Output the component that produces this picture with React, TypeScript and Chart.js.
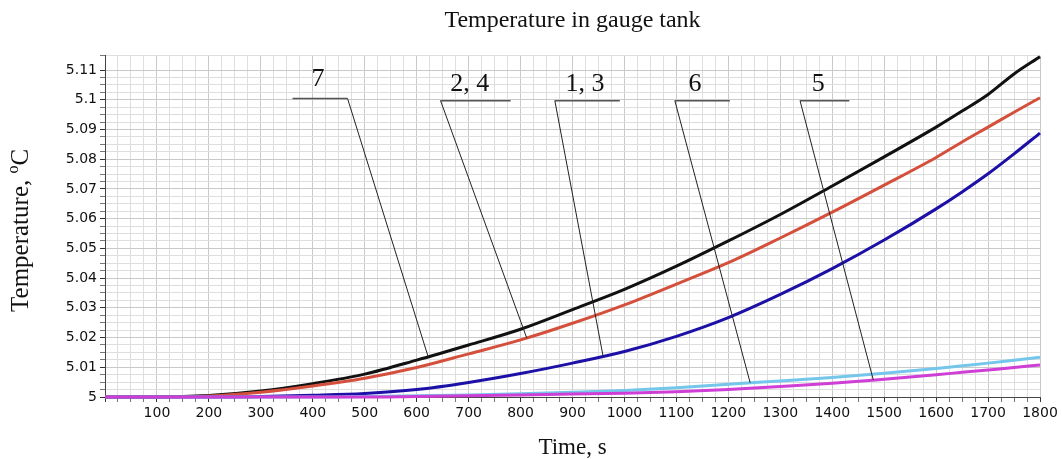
import React, { useEffect, useRef } from 'react';
import { Chart, registerables } from 'chart.js';

Chart.register(...registerables);

// ---- data ----
const times = [0, 100, 200, 300, 400, 500, 600, 700, 800, 900, 1000, 1100, 1200, 1300, 1400, 1500, 1600, 1650, 1700, 1750, 1800];

const curve7 = [5, 5, 5.0005, 5.002, 5.0045, 5.0077, 5.0124, 5.0175, 5.0228, 5.0294, 5.0362, 5.044, 5.0525, 5.0614, 5.071, 5.0808, 5.0908, 5.0962, 5.1018, 5.1087, 5.1145];
const curve24 = [5, 5, 5.0003, 5.0016, 5.0037, 5.0063, 5.0099, 5.0145, 5.0192, 5.0248, 5.031, 5.038, 5.0452, 5.0535, 5.0622, 5.0713, 5.0806, 5.0858, 5.0908, 5.0958, 5.1007];
const curve13 = [5, 5, 5, 5.0002, 5.0006, 5.0012, 5.0025, 5.0049, 5.0079, 5.0114, 5.0153, 5.0204, 5.0267, 5.0345, 5.0432, 5.0528, 5.0633, 5.069, 5.0751, 5.0818, 5.0888];
const curve6 = [5, 5, 5, 5, 5, 5.0002, 5.0004, 5.0007, 5.0011, 5.0016, 5.0022, 5.0031, 5.0043, 5.0054, 5.0066, 5.008, 5.0096, 5.0105, 5.0114, 5.0124, 5.0134];
const curve5 = [5, 5, 5, 5, 5, 5, 5.0002, 5.0004, 5.0007, 5.001, 5.0013, 5.0018, 5.0025, 5.0035, 5.0046, 5.006, 5.0075, 5.0083, 5.0091, 5.0099, 5.0108];

const seriesNames = ['5', '6', '1, 3', '2, 4', '7'];
const seriesValues = [curve5, curve6, curve13, curve24, curve7];
const seriesColors = ['#cf3fd6', '#74c6ea', '#1d10a6', '#d4503c', '#111111'];

// callouts (data coordinates)
const calloutText = ['7', '2, 4', '1, 3', '6', '5'];
const calloutTextX = [410, 702, 924, 1136, 1373];
const calloutTextY = [5.1071, 5.1054, 5.1054, 5.1054, 5.1054];
const shelfFrom = [361, 646, 866, 1097, 1338];
const shelfTo = [467, 781, 991, 1203, 1433];
const shelfY = [5.1004, 5.0997, 5.0997, 5.0997, 5.0997];
const leaderFromX = [467, 646, 866, 1097, 1338];
const leaderToX = [622, 812, 959, 1242, 1479];
const leaderToY = [5.0136, 5.0198, 5.0136, 5.0048, 5.0058];

const X_MIN = 0;
const X_MAX = 1800;
const Y_MIN = 5;
const Y_MAX = 5.1148;

const SERIF = "'Liberation Serif', 'Times New Roman', serif";
const SANS = "'DejaVu Sans', sans-serif";

const calloutPlugin = {
  id: 'callouts',
  afterDatasetsDraw(chart: any) {
    const { ctx, scales } = chart;
    const xs = scales.x;
    const ys = scales.y;
    ctx.save();
    for (let i = 0; i < calloutText.length; i++) {
      // shelf
      ctx.strokeStyle = '#555';
      ctx.lineWidth = 1.5;
      ctx.beginPath();
      ctx.moveTo(xs.getPixelForValue(shelfFrom[i]), ys.getPixelForValue(shelfY[i]));
      ctx.lineTo(xs.getPixelForValue(shelfTo[i]), ys.getPixelForValue(shelfY[i]));
      ctx.stroke();
      // leader
      ctx.strokeStyle = '#222';
      ctx.lineWidth = 1;
      ctx.beginPath();
      ctx.moveTo(xs.getPixelForValue(leaderFromX[i]), ys.getPixelForValue(shelfY[i]));
      ctx.lineTo(xs.getPixelForValue(leaderToX[i]), ys.getPixelForValue(leaderToY[i]));
      ctx.stroke();
      // text
      ctx.fillStyle = '#111';
      ctx.font = `26px ${SERIF}`;
      ctx.textAlign = 'center';
      ctx.textBaseline = 'middle';
      ctx.fillText(calloutText[i], xs.getPixelForValue(calloutTextX[i]), ys.getPixelForValue(calloutTextY[i]));
    }
    ctx.restore();
  },
};

const yTitlePlugin = {
  id: 'yTitle',
  afterDraw(chart: any) {
    const { ctx, chartArea } = chart;
    const cy = (chartArea.top + chartArea.bottom) / 2 + 4;
    const cx = 21;
    const main = 'Temperature, ';
    const sup = 'o';
    const unit = 'C';
    ctx.save();
    ctx.translate(cx, cy);
    ctx.rotate(-Math.PI / 2);
    ctx.fillStyle = '#111';
    ctx.textBaseline = 'middle';
    ctx.textAlign = 'left';
    ctx.font = `25px ${SERIF}`;
    const w1 = ctx.measureText(main).width;
    const w3 = ctx.measureText(unit).width;
    ctx.font = `16px ${SERIF}`;
    const w2 = ctx.measureText(sup).width;
    let x = -(w1 + w2 + w3) / 2;
    ctx.font = `25px ${SERIF}`;
    ctx.fillText(main, x, 0);
    x += w1;
    ctx.font = `16px ${SERIF}`;
    ctx.fillText(sup, x, -7);
    x += w2;
    ctx.font = `25px ${SERIF}`;
    ctx.fillText(unit, x, 0);
    ctx.restore();
  },
};

function isMajorX(v: number) {
  return Math.round(v) % 100 === 0;
}
function isMajorY(v: number) {
  return Math.round(v * 10000) % 100 === 0;
}

export default function App() {
  const canvasRef = useRef<HTMLCanvasElement | null>(null);

  useEffect(() => {
    if (!canvasRef.current) return;
    const datasets = seriesValues.map((vals, i) => ({
      label: seriesNames[i],
      data: times.map((t, j) => ({ x: t, y: vals[j] })),
      borderColor: seriesColors[i],
      backgroundColor: seriesColors[i],
      borderWidth: 3,
      pointRadius: 0,
      cubicInterpolationMode: 'monotone' as const,
      clip: 4,
      fill: false,
    }));

    const chart = new Chart(canvasRef.current, {
      type: 'line',
      data: { datasets },
      options: {
        animation: false,
        responsive: true,
        maintainAspectRatio: false,
        layout: { padding: { left: 0, right: 22, top: 0, bottom: 0 } },
        plugins: {
          legend: { display: false },
          tooltip: { enabled: false },
          title: {
            display: true,
            text: 'Temperature in gauge tank',
            fullSize: false,
            color: '#111',
            font: { family: SERIF, size: 24, weight: 'normal', lineHeight: 1.2 },
            padding: { top: 6, bottom: 21 },
          },
        },
        scales: {
          x: {
            type: 'linear',
            min: X_MIN,
            max: X_MAX,
            afterFit: (scale: any) => {
              scale.height = 62;
            },
            ticks: {
              stepSize: 25,
              autoSkip: false,
              maxRotation: 0,
              padding: 3,
              color: '#111',
              font: { family: SANS, size: 14 },
              callback: (v: any) => {
                const n = Number(v);
                return isMajorX(n) && n !== 0 ? String(Math.round(n)) : '';
              },
            },
            grid: {
              color: (c: any) => (c.tick && isMajorX(c.tick.value) ? '#c9c9c9' : '#dedede'),
              tickColor: (c: any) => (c.tick && isMajorX(c.tick.value) ? '#333' : '#777'),
              tickLength: 5,
              lineWidth: 1,
            },
            border: { display: true, color: '#444', width: 1 },
            title: {
              display: true,
              text: 'Time, s',
              color: '#111',
              font: { family: SERIF, size: 23, lineHeight: 1 },
              padding: { top: 0, bottom: 0 },
            },
          },
          y: {
            type: 'linear',
            min: Y_MIN,
            max: Y_MAX,
            afterFit: (scale: any) => {
              scale.width = 105;
            },
            ticks: {
              stepSize: 0.0025,
              autoSkip: false,
              padding: 3,
              color: '#111',
              font: { family: SANS, size: 14 },
              callback: (v: any) => {
                const n = Number(v);
                if (!isMajorY(n)) return '';
                return String(Math.round(n * 100) / 100);
              },
            },
            grid: {
              color: (c: any) => (c.tick && isMajorY(c.tick.value) ? '#c9c9c9' : '#dedede'),
              tickColor: (c: any) => (c.tick && isMajorY(c.tick.value) ? '#333' : '#777'),
              tickLength: 5,
              lineWidth: 1,
            },
            border: { display: true, color: '#444', width: 1 },
          },
        },
      },
      plugins: [calloutPlugin, yTitlePlugin],
    });
    return () => chart.destroy();
  }, []);

  return (
    <div style={{ position: 'absolute', left: 0, top: 0, width: 1062, height: 459, background: '#fff' }}>
      <canvas ref={canvasRef} />
    </div>
  );
}
